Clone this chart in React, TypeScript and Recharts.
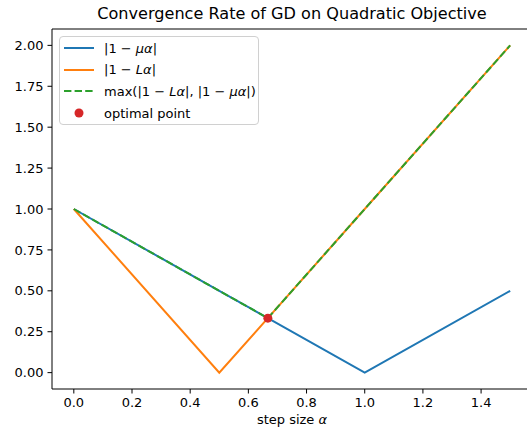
import React from 'react'
import {
	ComposedChart,
	Line,
	Scatter,
	XAxis,
	YAxis,
	Legend,
	ReferenceLine,
} from 'recharts'

// step sizes where the curves bend (mu = 1, L = 2)
const alphas = [0, 0.5, 0.667, 1, 1.5]
const muCurve = [1, 0.5, 0.333, 0, 0.5]
const lCurve = [1, 0, 0.333, 1, 2]
const maxCurve = [1, 0.5, 0.333, 1, 2]
const optimalAlpha = [0.667]
const optimalValue = [0.333]

const xTicks = [0, 0.2, 0.4, 0.6, 0.8, 1.0, 1.2, 1.4]
const yTicks = [0, 0.25, 0.5, 0.75, 1.0, 1.25, 1.5, 1.75, 2.0]

const FONT = '"DejaVu Sans", sans-serif'
const BLUE = '#1f77b4'
const ORANGE = '#ff7f0e'
const GREEN = '#2ca02c'
const RED = '#d62728'

const data = alphas.map((a, i) => ({
	alpha: a,
	mu: muCurve[i],
	L: lCurve[i],
	max: maxCurve[i],
}))

const optimal = optimalAlpha.map((a, i) => ({ alpha: a, value: optimalValue[i] }))

const It = ({ children }: { children: React.ReactNode }) => (
	<span style={{ fontStyle: 'italic' }}>{children}</span>
)

const legendRows = [
	{ key: 'mu', color: BLUE, dash: false, dot: false, label: <>|1 − <It>μα</It>|</> },
	{ key: 'L', color: ORANGE, dash: false, dot: false, label: <>|1 − <It>Lα</It>|</> },
	{
		key: 'max',
		color: GREEN,
		dash: true,
		dot: false,
		label: <>max(|1 − <It>Lα</It>|, |1 − <It>μα</It>|)</>,
	},
	{ key: 'opt', color: RED, dash: false, dot: true, label: <>optimal point</> },
]

const LegendBox = () => (
	<div
		style={{
			width: 198,
			height: 86,
			border: '1px solid #d0d0d0',
			borderRadius: 4,
			background: 'rgba(255,255,255,0.8)',
			fontFamily: FONT,
			fontSize: 13,
			color: '#000',
			paddingTop: 0.5,
		}}
	>
		{legendRows.map((r) => (
			<div key={r.key} style={{ height: 21.6, display: 'flex', alignItems: 'center' }}>
				<svg width={30} height={10} style={{ marginLeft: 4, marginRight: 10 }}>
					{r.dot ? (
						<circle cx={15} cy={5} r={4.5} fill={r.color} />
					) : (
						<line
							x1={0}
							x2={30}
							y1={5}
							y2={5}
							stroke={r.color}
							strokeWidth={2}
							strokeDasharray={r.dash ? '7.4 3.2' : undefined}
						/>
					)}
				</svg>
				<span style={{ whiteSpace: 'nowrap' }}>{r.label}</span>
			</div>
		))}
	</div>
)

const tickStyle = { fontFamily: FONT, fontSize: 13, fill: '#000' }

export default function App() {
	return (
		<div
			style={{
				position: 'absolute',
				left: 0,
				top: 0,
				width: 527,
				height: 431,
				overflow: 'hidden',
				background: '#fff',
			}}
		>
			<div
				style={{
					position: 'absolute',
					left: 52,
					top: 5.5,
					width: 480,
					textAlign: 'center',
					fontFamily: FONT,
					fontSize: 16.1,
					lineHeight: 1,
					color: '#000',
					whiteSpace: 'nowrap',
				}}
			>
				Convergence Rate of GD on Quadratic Objective
			</div>
			<ComposedChart
				width={540}
				height={431}
				data={data}
				margin={{ top: 29, right: 8, bottom: 0, left: 0 }}
			>
				<XAxis
					dataKey='alpha'
					type='number'
					domain={[-0.075, 1.575]}
					ticks={xTicks}
					tickFormatter={(v: number) => v.toFixed(1)}
					allowDataOverflow
					height={42}
					tickSize={4.5}
					tickMargin={4.5}
					tick={tickStyle}
					stroke='#000'
					axisLine={{ stroke: '#000', strokeWidth: 1 }}
					tickLine={{ stroke: '#000', strokeWidth: 1 }}
				/>
				<YAxis
					type='number'
					domain={[-0.1, 2.1]}
					ticks={yTicks}
					tickFormatter={(v: number) => v.toFixed(2)}
					allowDataOverflow
					width={52}
					tickSize={4.5}
					tickMargin={4}
					tick={tickStyle}
					axisLine={{ stroke: '#000', strokeWidth: 1 }}
					tickLine={{ stroke: '#000', strokeWidth: 1 }}
				/>
				<ReferenceLine y={2.1} stroke='#000' strokeWidth={1} />
				<Line
					dataKey='mu'
					type='linear'
					stroke={BLUE}
					strokeWidth={2}
					dot={false}
					activeDot={false}
					isAnimationActive={false}
				/>
				<Line
					dataKey='L'
					type='linear'
					stroke={ORANGE}
					strokeWidth={2}
					dot={false}
					activeDot={false}
					isAnimationActive={false}
				/>
				<Line
					dataKey='max'
					type='linear'
					stroke={GREEN}
					strokeWidth={2}
					strokeDasharray='7.4 3.2'
					dot={false}
					activeDot={false}
					isAnimationActive={false}
				/>
				<Scatter
					data={optimal}
					dataKey='value'
					fill={RED}
					isAnimationActive={false}
					shape={(p: any) => <circle cx={p.cx} cy={p.cy} r={4.5} fill={RED} />}
				/>
				<Legend
					layout='vertical'
					align='center'
					verticalAlign='middle'
					wrapperStyle={{ left: 59, top: 36, width: 200, height: 88 }}
					content={() => <LegendBox />}
				/>
			</ComposedChart>
			<div
				style={{
					position: 'absolute',
					left: 52,
					top: 413,
					width: 480,
					textAlign: 'center',
					fontFamily: FONT,
					fontSize: 13,
					lineHeight: 1,
					color: '#000',
				}}
			>
				step size <It>α</It>
			</div>
		</div>
	)
}
